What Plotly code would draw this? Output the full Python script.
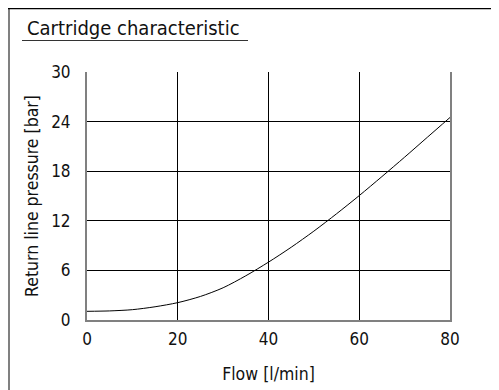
import plotly.graph_objects as go

# values
flow = [0, 5, 10, 15, 20, 25, 30, 35, 40, 45, 50, 55, 60, 65, 70, 75, 80]
pressure = [1.05, 1.1, 1.25, 1.6, 2.1, 2.85, 3.9, 5.35, 7.0, 8.8, 10.75,
            12.85, 15.05, 17.35, 19.7, 22.1, 24.5]

x_ticks = [0, 20, 40, 60, 80]
y_ticks = [0, 6, 12, 18, 24, 30]

# the page has an 8px body margin, so the figure sits at (8, 8)
W, H = 491, 382
L, R, T, B = 79, 49, 64, 70
pw, ph = W - L - R, H - T - B


def px(x):
    return (x - L) / pw


def py(y):
    return (H - B - y) / ph


fig = go.Figure()
fig.add_trace(go.Scatter(x=flow, y=pressure, mode="lines",
                         line=dict(color="black", width=1, shape="spline", smoothing=0.8),
                         hoverinfo="skip"))

font = "DejaVu Sans Condensed, DejaVu Sans"

fig.update_layout(
    width=W, height=H,
    margin=dict(l=L, r=R, t=T, b=B),
    paper_bgcolor="white", plot_bgcolor="white",
    showlegend=False,
    font=dict(family=font, size=16, color="#111"),
    xaxis=dict(range=[0, 80], tickvals=x_ticks, showgrid=True,
               gridcolor="black", gridwidth=1, zeroline=False,
               showline=True, linecolor="#808080", linewidth=2,
               ticklabelstandoff=3, automargin=False,
               tickfont=dict(size=17),
               title=dict(text="Flow [l/min]", standoff=19, font=dict(size=17.5))),
    yaxis=dict(range=[0, 30], tickvals=y_ticks, showgrid=True,
               gridcolor="black", gridwidth=1, zeroline=False,
               showline=True, linecolor="#808080", linewidth=2, mirror=True,
               ticklabelstandoff=11, automargin=False,
               tickfont=dict(size=17),
               title=dict(text="Return line pressure [bar]", standoff=8, font=dict(size=17.5))),
    shapes=[
        # figure frame (left and top)
        dict(type="line", xref="paper", yref="paper", x0=px(1), x1=px(1),
             y0=py(0), y1=py(H), line=dict(color="#808080", width=2)),
        dict(type="line", xref="paper", yref="paper", x0=px(0), x1=px(W),
             y0=py(0.5), y1=py(0.5), line=dict(color="black", width=1.5)),
        # title underline
        dict(type="line", xref="paper", yref="paper", x0=px(14), x1=px(240),
             y0=py(32.5), y1=py(32.5), line=dict(color="#333", width=1)),
    ],
    annotations=[
        dict(text="Cartridge characteristic", xref="paper", yref="paper",
             x=px(17), y=py(34), xanchor="left", yanchor="bottom",
             showarrow=False, font=dict(family=font, size=20, color="#111")),
    ],
)

fig.write_html("out.html")
